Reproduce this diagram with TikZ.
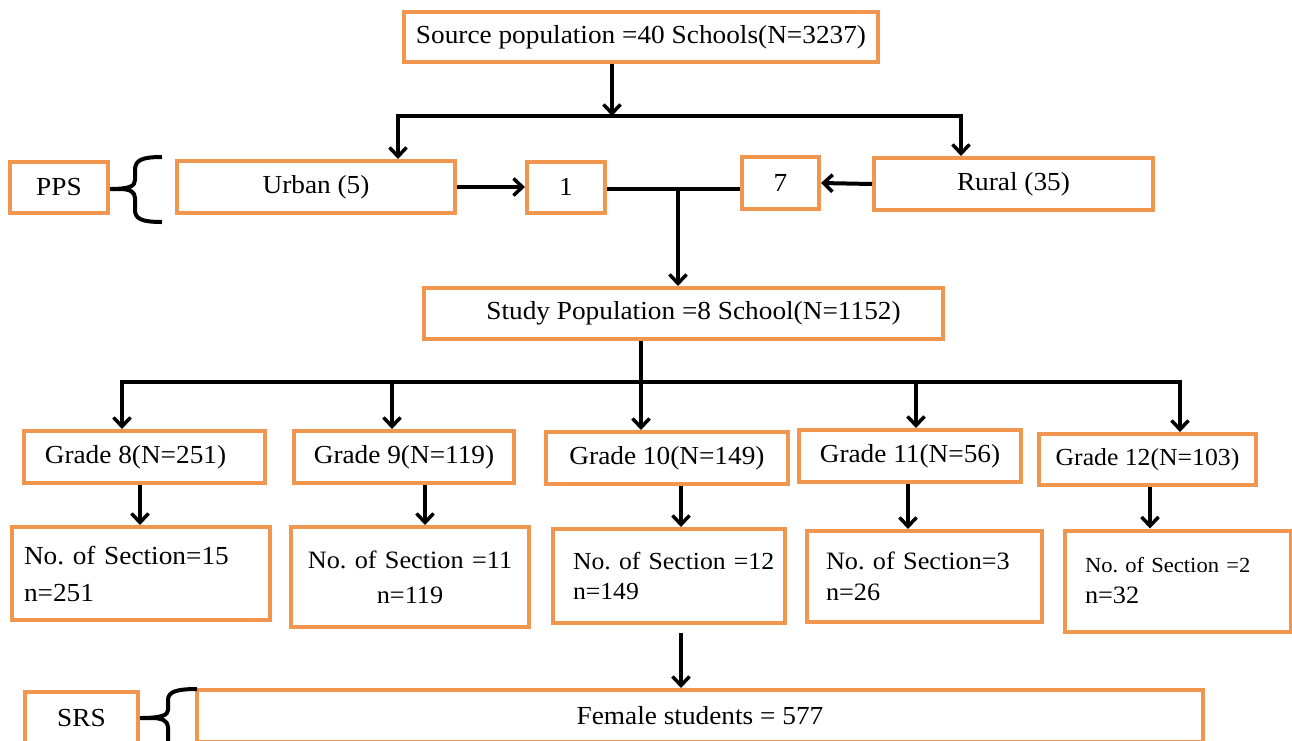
\documentclass[tikz,border=0pt]{standalone}
\usepackage{fontspec}
\setmainfont[FakeStretch=1.05]{Liberation Serif}
\frenchspacing
\usetikzlibrary{arrows.meta}
\definecolor{boxorange}{RGB}{240,150,78}
\begin{document}
\begin{tikzpicture}[x=1pt,y=-1pt,
  box/.style={draw=boxorange, line width=4pt, inner sep=0pt, fill=white,
    font=\fontsize{26}{30}\selectfont},
  tip/.tip={Straight Barb[length=9pt,width=17pt,line width=3.5pt]},
  conn/.style={line width=4pt, black, -tip},
  conn2/.style={line width=4pt, black, tip-tip, line join=miter},
  plain/.style={line width=4pt, black},
  brace/.style={line width=4pt, black, line cap=butt, line join=round}]
\clip (0,0) rectangle (1292,740);
\fill[white] (0,0) rectangle (1292,740);

% top level
\node[box, minimum width=474pt, minimum height=50pt] (src) at (641,37) {Source population =40 Schools(N=3237)};
\node[box, minimum width=98pt, minimum height=51pt] (pps) at (59,187.5) {PPS};
\node[box, minimum width=278pt, minimum height=52pt] (urban) at (316,187) {Urban (5)};
\node[box, minimum width=78pt, minimum height=51pt] (one) at (566,187) {1};
\node[box, minimum width=77pt, minimum height=52pt] (seven) at (780.5,183) {7};
\node[box, minimum width=279pt, minimum height=52pt] (rural) at (1013.5,184) {Rural (35)};
\node[box, minimum width=519pt, minimum height=51pt] (study) at (683.5,313.5) {\hspace*{20pt}Study Population =8 School(N=1152)};

% grades
\node[box, minimum width=241pt, minimum height=52pt] (g8) at (144.5,457) {Grade 8(N=251)\hspace*{18pt}};
\node[box, minimum width=220pt, minimum height=52pt] (g9) at (404,457) {Grade 9(N=119)};
\node[box, minimum width=242pt, minimum height=52pt] (g10) at (667,458) {Grade 10(N=149)};
\node[box, minimum width=222pt, minimum height=52pt] (g11) at (910,456) {Grade 11(N=56)};
\node[box, minimum width=217pt, minimum height=51pt, font=\fontsize{24.5}{28}\selectfont] (g12) at (1147.5,459.5) {Grade 12(N=103)};

% sections
\node[box, minimum width=258pt, minimum height=93pt, text width=234pt, align=left, font=\fontsize{26}{37}\selectfont] (s8) at (141,573.5) {No. of Section=15\\n=251};
\node[box, minimum width=238pt, minimum height=100pt, text width=224pt, align=center, font=\fontsize{25}{35}\selectfont] (s9) at (410,577) {No. of Section =11\\n=119};
\node[box, minimum width=232pt, minimum height=94pt, text width=226pt, align=left, font=\fontsize{24.5}{30}\selectfont] (s10) at (669,576) {\hspace*{17pt}No. of Section =12\\\hspace*{17pt}n=149};
\node[box, minimum width=235pt, minimum height=91pt, text width=197pt, align=left, font=\fontsize{25}{31}\selectfont] (s11) at (924.5,576.5) {No. of Section=3\\n=26};
\node[box, minimum width=226pt, minimum height=101pt, text width=186pt, align=left, font=\fontsize{21.5}{31}\selectfont] (s12) at (1178,581) {No. of Section =2\\{\fontsize{25}{31}\selectfont n=32}};

% bottom
\node[box, minimum width=113pt, minimum height=52pt] (srs) at (81.5,718) {SRS};
\node[box, minimum width=1006pt, minimum height=52pt] (fem) at (700,716) {Female students = 577};

% source -> split
\coordinate (h1L) at (398,116);
\coordinate (h1R) at (961,116);
\coordinate (h1M) at (612,116);
\draw[conn] (src.south -| h1M) -- (h1M);
\draw[conn2] (urban.north -| h1L) -- (h1L) -- (h1R) -- (rural.north -| h1R);

% urban -> 1, rural -> 7
\draw[conn] (urban.east) -- (one.west);
\draw[conn] (rural.west) -- (seven.east);

% 1 -- 7 -> study
\coordinate (j2) at (678,189);
\draw[plain] (one.east |- j2) -- (seven.west |- j2);
\draw[conn] (j2) -- (study.north -| j2);

% study -> grades
\coordinate (h2L) at (122,382);
\coordinate (h2R) at (1180,382);
\coordinate (h2M) at (641,382);
\draw[plain] (study.south -| h2M) -- (h2M);
\draw[conn2] (g8.north -| h2L) -- (h2L) -- (h2R) -- (g12.north -| h2R);
\draw[conn] (h2M) -- (g10.north -| h2M);
\coordinate (h2a) at (392,382);
\coordinate (h2b) at (916,382);
\draw[conn] (h2a) -- (g9.north -| h2a);
\draw[conn] (h2b) -- (g11.north -| h2b);

% grades -> sections
\coordinate (v8) at (140,0);
\coordinate (v9) at (425,0);
\coordinate (v10) at (681,0);
\coordinate (v11) at (908,0);
\coordinate (v12) at (1150,0);
\draw[conn] (g8.south -| v8) -- (s8.north -| v8);
\draw[conn] (g9.south -| v9) -- (s9.north -| v9);
\draw[conn] (g10.south -| v10) -- (s10.north -| v10);
\draw[conn] (g11.south -| v11) -- (s11.north -| v11);
\draw[conn] (g12.south -| v12) -- (s12.north -| v12);

% section 10 -> female
\draw[conn] (s10.south -| v10) ++(0,8) -- (fem.north -| v10);

% braces
\draw[brace] (162,157) .. controls (142,157) and (135,160) .. (135,170)
  -- (135,180) .. controls (135,186) and (130,189) .. (pps.east |- 0,189)
  (pps.east |- 0,189) -- (120,189) .. controls (130,189) and (135,192) .. (135,198)
  -- (135,210) .. controls (135,219) and (142,222) .. (162,222);
\draw[brace] (197,689) .. controls (176,689) and (168,692) .. (168,700)
  -- (168,710) .. controls (168,715) and (162,718) .. (srs.east |- 0,718)
  (srs.east |- 0,718) -- (152,718) .. controls (162,718) and (168,721) .. (168,727)
  -- (168,750);
\end{tikzpicture}
\end{document}
